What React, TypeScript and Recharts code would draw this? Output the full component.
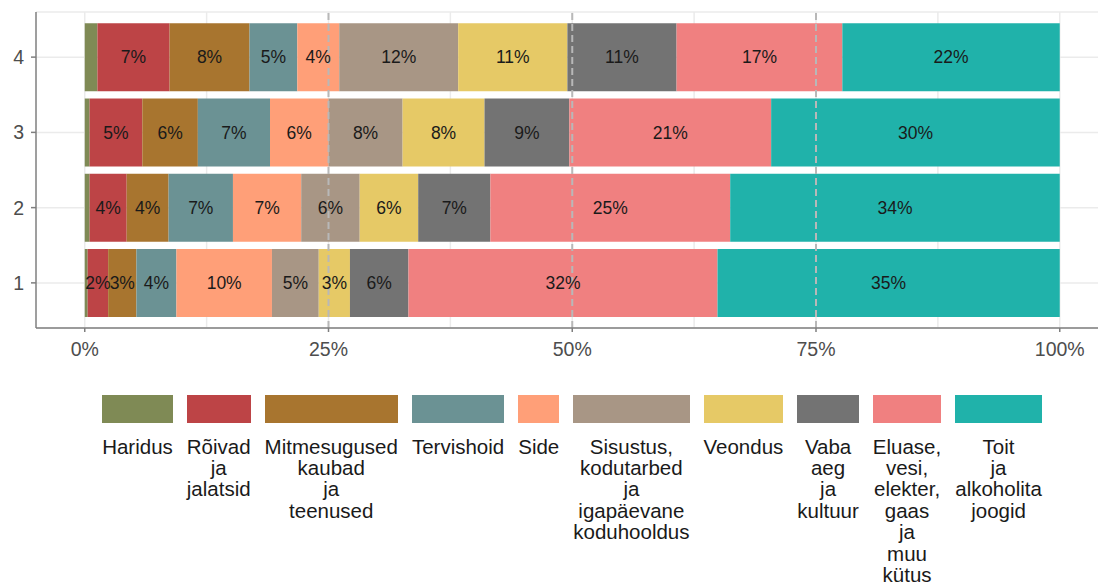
import { Bar, BarChart, CartesianGrid, LabelList, ReferenceLine, XAxis, YAxis } from 'recharts';

const GROUPS = ['1', '2', '3', '4'];

const HARIDUS = [0.3, 0.5, 0.5, 1.3];
const ROIVAD = [2.1, 3.8, 5.4, 7.4];
const MITMESUGUSED = [2.9, 4.3, 5.7, 8.2];
const TERVISHOID = [4.1, 6.6, 7.4, 4.9];
const SIDE = [9.8, 7.0, 6.0, 4.3];
const SISUSTUS = [4.8, 6.0, 7.6, 12.2];
const VEONDUS = [3.2, 6.0, 8.4, 11.2];
const VABA_AEG = [6.0, 7.4, 8.7, 11.2];
const ELUASE = [31.7, 24.6, 20.7, 17.0];
const TOIT = [35.1, 33.8, 29.6, 22.3];

const X_TICKS = [0, 25, 50, 75, 100];
const X_MINOR = [12.5, 37.5, 62.5, 87.5];
const DASHED_AT = [25, 50, 75];

const SERIES = [
  { key: 'haridus', name: 'Haridus', color: '#7f8a55', values: HARIDUS },
  { key: 'roivad', name: 'Rõivad ja jalatsid', color: '#bd4446', values: ROIVAD },
  { key: 'mitmesugused', name: 'Mitmesugused kaubad ja teenused', color: '#a8752f', values: MITMESUGUSED },
  { key: 'tervishoid', name: 'Tervishoid', color: '#6b9294', values: TERVISHOID },
  { key: 'side', name: 'Side', color: '#ff9f78', values: SIDE },
  { key: 'sisustus', name: 'Sisustus, kodutarbed ja igapäevane koduhooldus', color: '#a89685', values: SISUSTUS },
  { key: 'veondus', name: 'Veondus', color: '#e6c966', values: VEONDUS },
  { key: 'vaba', name: 'Vaba aeg ja kultuur', color: '#737373', values: VABA_AEG },
  { key: 'eluase', name: 'Eluase, vesi, elekter, gaas ja muu kütus', color: '#f08080', values: ELUASE },
  { key: 'toit', name: 'Toit ja alkoholita joogid', color: '#20b2aa', values: TOIT },
];

const data = GROUPS.map((g, i) => {
  const row: Record<string, string | number> = { group: g };
  SERIES.forEach((s) => {
    row[s.key] = s.values[i];
  });
  return row;
});

const FONT = "Arial, 'Liberation Sans', sans-serif";
const AXIS_COLOR = '#7f7f7f';
const GRID_COLOR = '#ebebeb';

const pct = (v: any) => (typeof v === 'number' && v >= 1.5 ? `${Math.round(v)}%` : '');

function verticalGrid({ offset }: any) {
  // same linear domain as the x axis, major + minor breaks
  const [lo, hi] = [-5, 105];
  return [...X_TICKS, ...X_MINOR].map(
    (v) => offset.left + ((v - lo) / (hi - lo)) * offset.width
  );
}

function Legend() {
  return (
    <div
      style={{
        position: 'absolute',
        top: 395,
        left: 0,
        width: 1144,
        display: 'flex',
        justifyContent: 'center',
        gap: 14,
        fontFamily: FONT,
        fontSize: 20.5,
        lineHeight: '21.4px',
        color: '#1a1a1a',
      }}
    >
      {SERIES.map((s) => (
        <div key={s.key} style={{ display: 'flex', flexDirection: 'column', alignItems: 'stretch' }}>
          <div style={{ height: 28, background: s.color }} />
          <div style={{ marginTop: 12.5, textAlign: 'center' }}>
            {s.name.split(' ').map((w, i) => (
              <div key={i} style={{ whiteSpace: 'nowrap' }}>{w}</div>
            ))}
          </div>
        </div>
      ))}
    </div>
  );
}

export default function App() {
  return (
    <div
      style={{
        position: 'fixed',
        left: 0,
        top: 0,
        width: 1098,
        height: 586,
        overflow: 'hidden',
        background: '#fff',
        fontFamily: FONT,
      }}
    >
      <BarChart
        width={1109}
        height={360}
        data={data}
        layout="vertical"
        barCategoryGap="5%"
        margin={{ top: 12, right: 0.5, left: 0, bottom: 0 }}
      >
        <CartesianGrid
          stroke={GRID_COLOR}
          strokeWidth={1.5}
          verticalCoordinatesGenerator={verticalGrid}
        />
        <XAxis
          type="number"
          domain={[-5, 105]}
          allowDataOverflow
          ticks={X_TICKS}
          tickFormatter={(v) => `${v}%`}
          height={32}
          tickSize={4}
          tickMargin={10}
          stroke={AXIS_COLOR}
          strokeWidth={1.5}
          tick={{ fill: '#4d4d4d', fontSize: 19.5, fontFamily: FONT }}
        />
        <YAxis
          type="category"
          dataKey="group"
          reversed
          width={36}
          padding={{ top: 7.5, bottom: 7.5 }}
          tickSize={5}
          tickMargin={7}
          stroke={AXIS_COLOR}
          strokeWidth={1.5}
          tick={{ fill: '#4d4d4d', fontSize: 19.5, fontFamily: FONT }}
        />
        {SERIES.map((s) => (
          <Bar key={s.key} dataKey={s.key} name={s.name} stackId="a" fill={s.color} isAnimationActive={false}>
            <LabelList
              dataKey={s.key}
              position="center"
              formatter={pct}
              fill="#1a1a1a"
              style={{ fontSize: 17.5, fontFamily: FONT }}
            />
          </Bar>
        ))}
        {DASHED_AT.map((v) => (
          <ReferenceLine key={v} x={v} stroke="#b8b8b8" strokeWidth={2} strokeDasharray="7 4" />
        ))}
      </BarChart>
      <Legend />
    </div>
  );
}
